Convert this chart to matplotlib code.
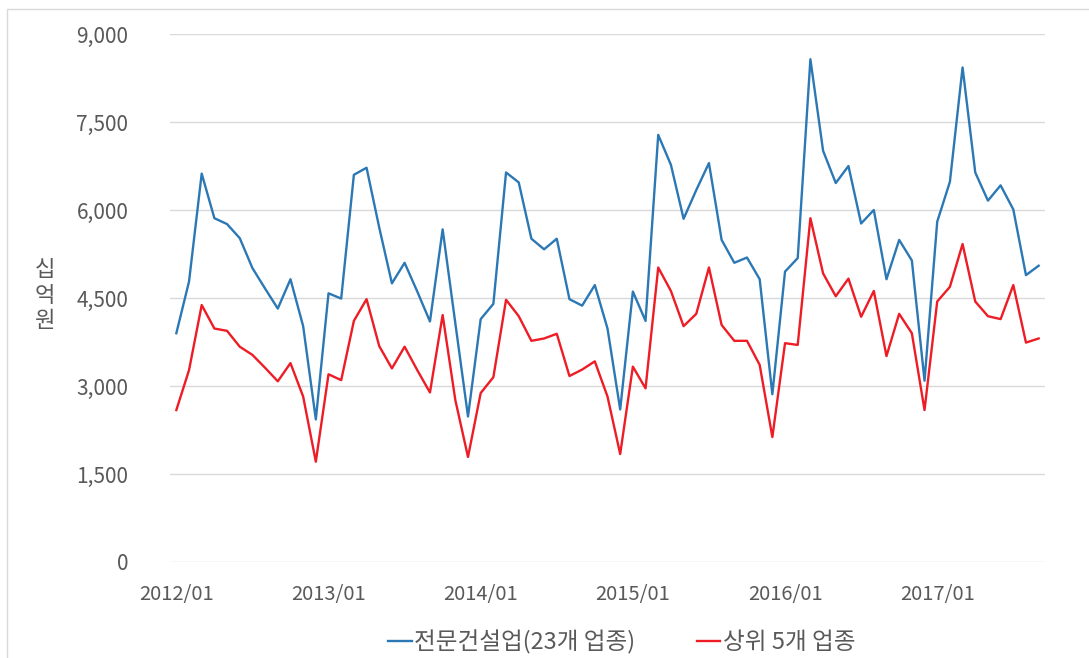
import matplotlib
matplotlib.use("Agg")
import matplotlib.pyplot as plt
from matplotlib.patches import Rectangle

plt.rcParams['font.family'] = ['Noto Sans CJK KR', 'DejaVu Sans']

# monthly, 2012/01 .. 2017/09 (billion won)
specialty_total = [
    3900, 4780, 6620, 5860, 5760, 5520, 5010, 4660, 4320, 4820, 4020, 2430,
    4580, 4490, 6600, 6720, 5700, 4750, 5100, 4610, 4100, 5670, 4070, 2480,
    4140, 4400, 6640, 6470, 5510, 5330, 5510, 4480, 4370, 4720, 3980, 2600,
    4610, 4110, 7280, 6770, 5850, 6340, 6800, 5490, 5100, 5190, 4820, 2860,
    4950, 5180, 8570, 7010, 6460, 6750, 5770, 6000, 4820, 5490, 5140, 3090,
    5800, 6480, 8430, 6640, 6160, 6420, 6010, 4890, 5050,
]
top5 = [
    2590, 3270, 4380, 3980, 3940, 3670, 3530, 3310, 3080, 3390, 2820, 1710,
    3200, 3100, 4110, 4480, 3680, 3300, 3670, 3270, 2890, 4210, 2760, 1790,
    2880, 3150, 4470, 4190, 3770, 3810, 3890, 3170, 3280, 3420, 2820, 1840,
    3330, 2960, 5020, 4620, 4020, 4230, 5020, 4040, 3770, 3770, 3360, 2130,
    3730, 3700, 5860, 4920, 4530, 4830, 4180, 4620, 3510, 4230, 3900, 2590,
    4440, 4690, 5420, 4440, 4190, 4140, 4720, 3740, 3810,
]
tick_labels = ["2012/01", "2013/01", "2014/01", "2015/01", "2016/01", "2017/01"]
y_ticks = [0, 1500, 3000, 4500, 6000, 7500, 9000]
series_names = ["전문건설업(23개 업종)", "상위 5개 업종"]

fig = plt.figure(figsize=(10.89, 6.58), dpi=100)
fig.patches.append(Rectangle((7 / 1089, -0.1), 1.2, 1 - 9 / 658 + 0.1,
                             transform=fig.transFigure, fill=False,
                             edgecolor="#d9d9d9", linewidth=1))

ax = fig.add_axes([170 / 1089, 1 - 562 / 658, (1045 - 170) / 1089, (562 - 34) / 658])
x = list(range(len(specialty_total)))
l1, = ax.plot(x, specialty_total, color="#2b78b5", linewidth=1.7)
l2, = ax.plot(x, top5, color="#ee1c25", linewidth=1.7)

ax.set_xlim(-0.5, len(x) - 0.5)
ax.set_ylim(0, 9000)
ax.set_yticks(y_ticks)
ax.set_yticklabels([f"{v:,}" for v in y_ticks], fontsize=15, color="#595959")
ax.set_xticks(range(0, 72, 12))
ax.set_xticklabels(tick_labels, fontsize=14.5, color="#595959")
ax.tick_params(axis="y", length=0, pad=30)
ax.tick_params(axis="x", length=0, pad=16)
ax.grid(axis="y", color="#d9d9d9", linewidth=1)
ax.set_axisbelow(True)
for s in ax.spines.values():
    s.set_visible(False)

fig.text(45 / 1089, 1 - 295 / 658, "십\n억\n원", fontsize=16, color="#595959",
         ha="center", va="center", linespacing=1.15)

fig.legend([l1, l2], series_names, loc="center", bbox_to_anchor=(0.571, 1 - 642 / 658),
           ncol=2, frameon=False, fontsize=17, handlelength=1.0, handletextpad=0.1,
           columnspacing=2.6, labelcolor="#595959")

fig.savefig("out.png", dpi=100)
